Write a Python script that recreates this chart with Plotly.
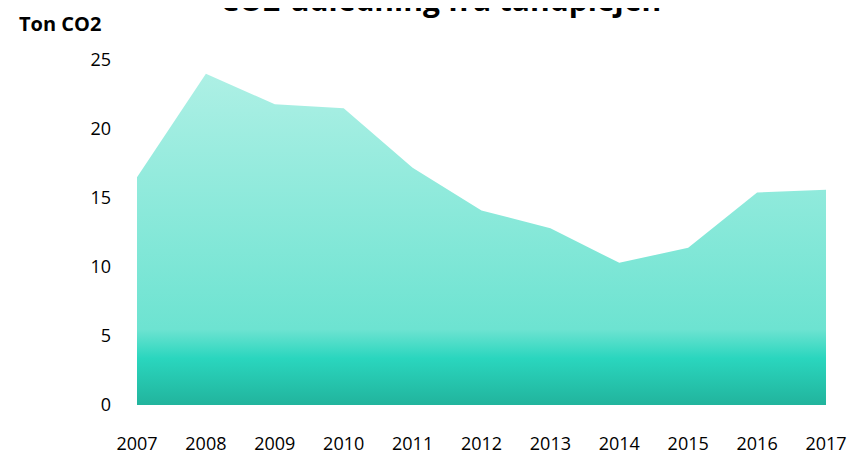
import plotly.graph_objects as go

years = [2007, 2008, 2009, 2010, 2011, 2012, 2013, 2014, 2015, 2016, 2017]
values = [16.5, 24.0, 21.8, 21.5, 17.2, 14.1, 12.8, 10.3, 11.4, 15.4, 15.6]
y_ticks = [0, 5, 10, 15, 20, 25]

title_text = "CO2-udledning fra tandplejen"
y_title = "Ton CO2"

fig = go.Figure()
fig.add_trace(go.Scatter(
    x=years, y=values, mode="lines", line=dict(width=0, color="rgba(0,0,0,0)"),
    fill="tozeroy",
    fillgradient=dict(
        type="vertical", start=0, stop=24.2,
        colorscale=[[0, "#20AE97"], [0.16, "#2AD6BE"], [0.245, "#6DE3D1"], [1, "#AEF0E5"]],
    ),
    hoverinfo="skip", showlegend=False,
))

font_family = "Open Sans, Noto Sans, sans-serif"
fig.update_layout(
    width=851, height=459,
    margin=dict(l=129, r=33, t=52, b=54),
    paper_bgcolor="white", plot_bgcolor="white",
    font=dict(family=font_family, size=18, color="#000000"),
    xaxis=dict(range=[2007, 2017], tickmode="array", tickvals=years,
               ticktext=[str(y) for y in years], showgrid=False, zeroline=False,
               showline=False, ticks="", ticklabelstandoff=26),
    yaxis=dict(range=[0, 25], tickmode="array", tickvals=y_ticks,
               showgrid=False, zeroline=False, showline=False, ticks="",
               ticklabelstandoff=25),
    annotations=[
        dict(text="<b>" + title_text + "</b>", xref="paper", yref="paper",
             x=0.44, y=1.109, xanchor="center", yanchor="bottom", showarrow=False,
             font=dict(size=30, family=font_family, color="#000000")),
        dict(text="<b>" + y_title + "</b>", xref="paper", yref="paper",
             x=(52 - 129) / 689, y=1 + (60 - 24) / 345, xanchor="center", yanchor="middle",
             showarrow=False,
             font=dict(size=20, family=font_family, color="#000000")),
    ],
)

fig.write_html("out.html")
